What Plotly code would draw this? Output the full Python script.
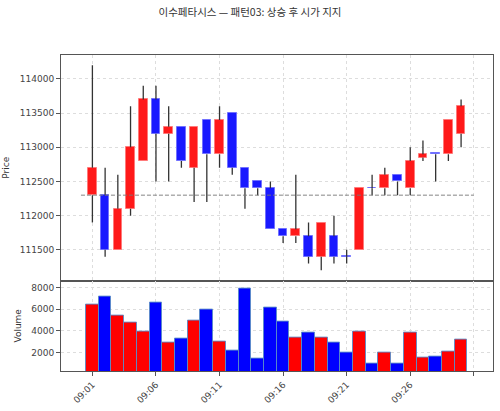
import plotly.graph_objects as go

times = ["09:01","09:02","09:03","09:04","09:05","09:06","09:07","09:08","09:09","09:10",
         "09:11","09:12","09:13","09:14","09:15","09:16","09:17","09:18","09:19","09:20",
         "09:21","09:22","09:23","09:24","09:25","09:26","09:27","09:28","09:29","09:30"]
opens  = [112300,112300,111500,112100,112800,113700,113200,113300,112700,113400,
          112900,113500,112700,112500,112400,111800,111700,111700,111400,111700,
          111400,111500,112400,112400,112600,112400,112850,112900,112900,113200]
highs  = [114200,112700,112600,113600,113900,113900,113600,113300,113300,113400,
          113600,113500,112700,112500,112500,111800,112600,111900,111900,112000,
          111500,112400,112600,112700,112600,113000,113100,112900,113400,113700]
lows   = [111900,111400,111500,112000,112800,112500,112500,112700,112200,112200,
          112700,112600,112100,112300,111800,111600,111600,111300,111200,111300,
          111300,111500,112300,112300,112300,112300,112800,112500,112800,113000]
closes = [112700,111500,112100,113000,113700,113200,113300,112800,113300,112900,
          113400,112700,112400,112400,111800,111700,111800,111400,111900,111400,
          111400,112400,112400,112600,112500,112800,112900,112900,113400,113600]
volumes = [6450,7150,5450,4800,3950,6600,2900,3300,4950,5950,
           3050,2150,7900,1400,6200,4850,3400,3800,3400,2950,
           2000,3900,950,1950,950,3800,1500,1600,2100,3150]
tick_pos = [0,5,10,15,20,25,30]
tick_text = ["09:01","09:06","09:11","09:16","09:21","09:26",""]
price_ticks = [111500, 112000, 112500, 113000, 113500, 114000]
volume_ticks = [2000, 4000, 6000, 8000]

n = len(times)
idx = list(range(n))
up = [c > o for o, c in zip(opens, closes)]

body_fill = ["rgb(255,25,25)" if u else "rgb(25,25,255)" for u in up]
body_edge = ["rgba(255,120,120,0.9)" if u else "rgba(110,110,255,0.9)" for u in up]
vol_fill = ["#ff0000" if u else "#0000ff" for u in up]

fig = go.Figure()

# wicks (upper and lower segments)
wx, wy = [], []
for i in idx:
    top = max(opens[i], closes[i]); bot = min(opens[i], closes[i])
    if highs[i] > top:
        wx += [i, i, None]; wy += [top, highs[i], None]
    if lows[i] < bot:
        wx += [i, i, None]; wy += [bot, lows[i], None]
fig.add_trace(go.Scatter(x=wx, y=wy, mode="lines", line=dict(color="#333333", width=1.3),
                         hoverinfo="skip", showlegend=False, xaxis="x", yaxis="y"))

bases = [min(o, c) for o, c in zip(opens, closes)]
heights = [max(abs(c - o), 12) for o, c in zip(opens, closes)]
fig.add_trace(go.Bar(x=idx, y=heights, base=bases, width=0.68,
                     marker=dict(color=body_fill, line=dict(color=body_edge, width=1)),
                     showlegend=False, xaxis="x", yaxis="y"))

fig.add_trace(go.Bar(x=idx, y=volumes, width=1.0,
                     marker=dict(color=vol_fill, line=dict(color="rgba(90,140,200,0.9)", width=1)),
                     showlegend=False, xaxis="x2", yaxis="y2"))

fig.add_shape(type="line", x0=-0.9, x1=n, y0=opens[0], y1=opens[0], xref="x", yref="y",
              line=dict(color="#777777", width=0.9, dash="4px,2px"))

tickfont = dict(family="DejaVu Sans", size=9, color="#444444")
axis_common = dict(showline=True, linecolor="#555555", linewidth=1, mirror=True,
                   showgrid=True, gridcolor="#dddddd", griddash="dot", gridwidth=1,
                   zeroline=False, tickcolor="#555555", tickfont=tickfont)

fig.update_layout(
    width=500, height=411,
    margin=dict(l=58, r=6, t=55, b=37),
    paper_bgcolor="white", plot_bgcolor="white",
    bargap=0,
    title=dict(text="이수페타시스 — 패턴03: 상승 후 시가 지지", x=0.5, xanchor="center",
               y=1 - 12/411, yanchor="middle",
               font=dict(family="Noto Sans CJK KR", size=10.5, color="#333333")),
    xaxis=dict(domain=[0, 1], range=[-2.47, 31.51], anchor="y", tickvals=tick_pos,
               showticklabels=False, ticks="", **axis_common),
    yaxis=dict(domain=[0.286, 1], range=[111050, 114350], anchor="x",
               tickvals=price_ticks, ticktext=[str(v) for v in price_ticks],
               ticks="outside", ticklen=4,
               title=dict(text="Price", font=dict(family="DejaVu Sans", size=9, color="#333333"), standoff=8),
               **axis_common),
    xaxis2=dict(domain=[0, 1], range=[-2.47, 31.51], anchor="y2", tickvals=tick_pos,
                ticktext=tick_text, tickangle=-45, ticks="outside", ticklen=4, **axis_common),
    yaxis2=dict(domain=[0, 0.286], range=[280, 8660], anchor="x2",
                tickvals=volume_ticks, ticktext=[str(v) for v in volume_ticks],
                ticks="outside", ticklen=4,
                title=dict(text="Volume", font=dict(family="DejaVu Sans", size=9, color="#333333"), standoff=8),
                **axis_common),
)

fig.write_html("out.html")
